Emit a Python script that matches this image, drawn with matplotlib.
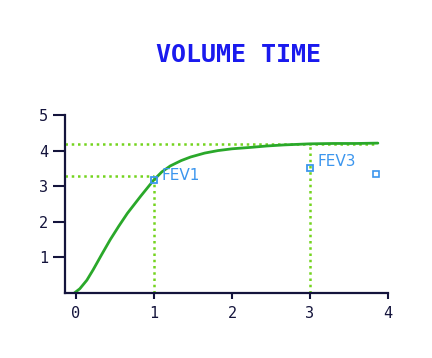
import matplotlib
matplotlib.use("Agg")
from matplotlib import pyplot as plt

# volume-time curve (seconds, litres)
time = [-0.02, 0.05, 0.14, 0.22, 0.33, 0.44, 0.55, 0.66, 0.83, 1.0, 1.1, 1.21,
        1.35, 1.47, 1.65, 1.82, 2.0, 2.24, 2.45, 2.67, 3.0, 3.3, 3.6, 3.87]
volume = [0.0, 0.12, 0.36, 0.65, 1.08, 1.5, 1.88, 2.24, 2.72, 3.18, 3.4, 3.57,
          3.72, 3.82, 3.93, 4.0, 4.05, 4.09, 4.13, 4.16, 4.19, 4.2, 4.2, 4.21]

# reference levels
fvc = 4.18
fev1 = 3.28
fvc_end = 3.85

# FEV markers and labels
fev_times = [1, 3]
fev_marks = [3.17, 3.5]
fev_labels = ["FEV1", "FEV3"]
fev_label_vals = [3.3, 3.68]
box_time = [3.85]
box_val = [3.33]

xticks = [0, 1, 2, 3, 4]
xlabels = ["0", "1", "2", "3", "4"]
yticks = [1, 2, 3, 4, 5]

axis_col = "#14143c"
curve_col = "#2aa82a"
dot_col = "#74d41e"
label_col = "#3c96ee"

fig = plt.figure(figsize=(4.32, 3.58), dpi=100)
ax = fig.add_axes([0.1505, 0.1816, 0.7477, 0.4972])

''' dotted guide lines '''
dots = dict(color=dot_col, lw=1.8, ls=(0, (1, 1.5)))
ax.plot([-0.14, fvc_end], [fvc, fvc], **dots)
ax.plot([-0.14, fev_times[0]], [fev1, fev1], **dots)
ax.plot([fev_times[0], fev_times[0]], [0, fev1], **dots)
ax.plot([fev_times[1], fev_times[1]], [0, fvc], **dots)

''' the curve '''
ax.plot(time, volume, color=curve_col, lw=2.0, solid_capstyle="round",
        solid_joinstyle="round")

''' markers and labels '''
ax.plot(fev_times, fev_marks, ls="none", marker="s", ms=4.5, mfc="none",
        mec=label_col, mew=1.3)
for t, v, s in zip(fev_times, fev_label_vals, fev_labels):
    ax.text(t + 0.1, v, s, color=label_col, fontsize=11, va="center",
            family="DejaVu Sans")
ax.plot(box_time, box_val, ls="none", marker="s", ms=4, mfc="none",
        mec=label_col, mew=1.2)

''' axes styling '''
ax.set_xlim(-0.14, 4.0)
ax.set_ylim(0, 5)
for s in ["top", "right"]:
    ax.spines[s].set_visible(False)
for s in ["left", "bottom"]:
    ax.spines[s].set_color(axis_col)
    ax.spines[s].set_linewidth(1.6)
ax.set_xticks(xticks)
ax.set_xticklabels(xlabels)
ax.set_yticks(yticks)
ax.tick_params(axis="x", direction="out", length=4.5, width=1.5,
               color=axis_col, labelcolor=axis_col, pad=5, labelsize=11)
ax.tick_params(axis="y", direction="out", length=8.5, width=1.5,
               color=axis_col, labelcolor=axis_col, pad=3.5, labelsize=11)
for lab in ax.get_xticklabels() + ax.get_yticklabels():
    lab.set_family("DejaVu Sans Mono")

fig.text(0.553, 0.846, "VOLUME TIME", color="#1a1aee", fontsize=18,
         fontweight="bold", family="DejaVu Sans Mono", ha="center", va="center")

fig.savefig("out.png", dpi=100)
